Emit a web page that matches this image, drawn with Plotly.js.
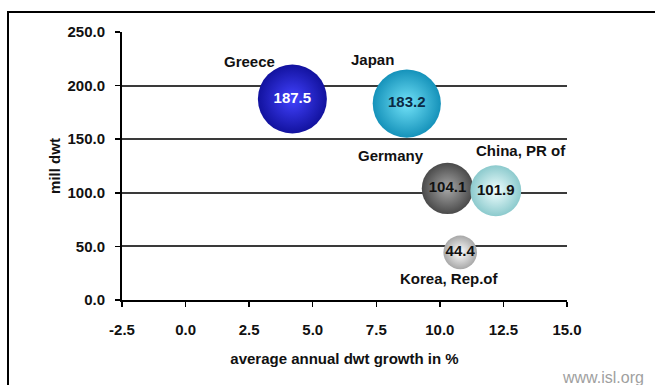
<!DOCTYPE html>
<html>
<head>
<meta charset="utf-8">
<script src="https://cdn.plot.ly/plotly-3.0.1.min.js"></script>
<style>
  html, body { margin: 0; padding: 0; background: #ffffff; }
  #chart { width: 655px; height: 385px; }
</style>
</head>
<body>
<div id="chart"></div>
<script>
// ---- data ----
const countries = ["Greece", "Japan", "Germany", "China, PR of", "Korea, Rep.of"];
const growthPct = [4.2, 8.7, 10.3, 12.2, 10.8];        // average annual dwt growth in %
const millDwt   = [187.5, 183.2, 104.1, 101.9, 44.4];  // mill dwt (also bubble size)
const xTickVals = [-2.5, 0.0, 2.5, 5.0, 7.5, 10.0, 12.5, 15.0];
const yTickVals = [0, 50, 100, 150, 200, 250];

// ---- styles ----
const FONT = '"Liberation Sans", Arial, sans-serif';
const edgeColors   = ["#12129e", "#1592ba", "#4a4a4a", "#8ccacd", "#a8a8a8"];
const centerColors = ["#4242ff", "#72e2f8", "#a8a8a8", "#f0ffff", "#ffffff"];
const valueColors  = ["#ffffff", "#0b2a44", "#111111", "#111111", "#111111"];
// label offsets (px) relative to each bubble centre
const labelShift = [[-43, 38], [-34, 44], [-56, 33], [25, 40], [-11, -26]];

const trace = {
  type: "scatter",
  mode: "markers+text",
  x: growthPct,
  y: millDwt,
  text: millDwt.map(v => v.toFixed(1)),
  textposition: "middle center",
  textfont: { family: FONT, size: 15, color: valueColors, weight: "bold" },
  marker: {
    size: millDwt,
    sizemode: "area",
    sizeref: 2 * 187.5 / (69 * 69),
    color: edgeColors,
    gradient: { type: "radial", color: centerColors },
    line: { width: 0 },
    opacity: 1
  },
  hoverinfo: "skip",
  cliponaxis: false,
  showlegend: false
};

const annotations = countries.map((c, i) => ({
  x: growthPct[i], y: millDwt[i], xref: "x", yref: "y",
  text: c, showarrow: false,
  xshift: labelShift[i][0], yshift: labelShift[i][1],
  font: { family: FONT, size: 15, color: "#111111", weight: "bold" }
}));
annotations.push({
  xref: "paper", yref: "paper", x: 1.081, y: -0.29,
  xanchor: "center", yanchor: "middle",
  text: "www.isl.org", showarrow: false,
  font: { family: FONT, size: 16, color: "#a0a0a0" }
});

const layout = {
  width: 655, height: 385,
  margin: { l: 122, r: 88, t: 32, b: 85, pad: 0 },
  paper_bgcolor: "#ffffff",
  plot_bgcolor: "#ffffff",
  font: { family: FONT, color: "#111111" },
  xaxis: {
    range: [-2.5, 15],
    tickvals: xTickVals,
    ticktext: xTickVals.map(v => v.toFixed(1)),
    showgrid: false,
    zeroline: false,
    showline: true, linecolor: "#000000", linewidth: 2,
    ticks: "outside", ticklen: 5, tickwidth: 1.5, tickcolor: "#000000",
    ticklabelstandoff: 10,
    tickfont: { family: FONT, size: 15, color: "#111111", weight: "bold" },
    title: { text: "average annual dwt growth in %", standoff: 16,
             font: { family: FONT, size: 15, color: "#111111", weight: "bold" } },
    fixedrange: true
  },
  yaxis: {
    range: [0, 250],
    tickvals: yTickVals,
    ticktext: yTickVals.map(v => v.toFixed(1)),
    showgrid: true, gridcolor: "#3a3a3a", gridwidth: 2,
    zeroline: false,
    showline: true, linecolor: "#000000", linewidth: 2,
    ticks: "outside", ticklen: 5, tickwidth: 1.5, tickcolor: "#000000",
    ticklabelstandoff: 7,
    tickfont: { family: FONT, size: 15, color: "#111111", weight: "bold" },
    title: { text: "mill dwt", standoff: 3,
             font: { family: FONT, size: 15, color: "#111111", weight: "bold" } },
    fixedrange: true
  },
  shapes: [{
    type: "rect", xref: "paper", yref: "paper",
    x0: (8 - 122) / 445, x1: 1.5, y0: -0.6, y1: (300 - 12) / 268,
    line: { color: "#000000", width: 2 }, fillcolor: "rgba(0,0,0,0)", layer: "below"
  }],
  annotations: annotations,
  showlegend: false
};

Plotly.newPlot("chart", [trace], layout, { displayModeBar: false, staticPlot: true });
</script>
</body>
</html>
